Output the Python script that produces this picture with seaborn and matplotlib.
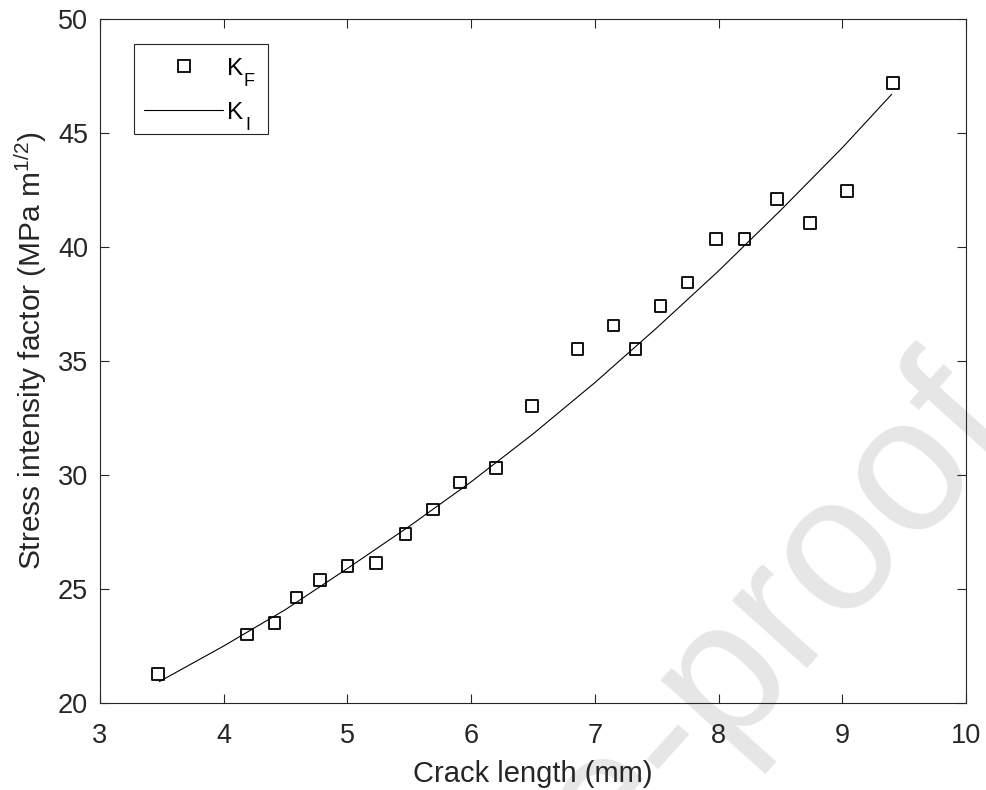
import matplotlib
matplotlib.use("Agg")
import matplotlib.pyplot as plt
import seaborn as sns
import pandas as pd
from matplotlib.lines import Line2D
from matplotlib.patches import Rectangle
from matplotlib.transforms import IdentityTransform

# === Data ===
crack_len = [3.47, 4.19, 4.41, 4.59, 4.78, 5.00, 5.23, 5.47, 5.69, 5.91, 6.20, 6.49,
             6.86, 7.15, 7.33, 7.53, 7.75, 7.98, 8.21, 8.47, 8.74, 9.04, 9.41]
k_f = [21.26, 23.01, 23.52, 24.62, 25.39, 26.00, 26.13, 27.40, 28.48, 29.67, 30.30, 33.02,
       35.52, 36.56, 35.52, 37.40, 38.44, 40.35, 40.35, 42.10, 41.04, 42.46, 47.19]

fit_len = [3.48, 4.0, 4.5, 5.0, 5.5, 6.0, 6.5, 7.0, 7.5, 8.0, 8.5, 9.0, 9.4]
k_i = [20.94, 22.5, 24.1, 25.9, 27.75, 29.7, 31.8, 34.05, 36.45, 38.95, 41.6, 44.35, 46.7]

x_ticks = [3, 4, 5, 6, 7, 8, 9, 10]
y_ticks = [20, 25, 30, 35, 40, 45, 50]
legend_subs = ["F", "I"]

# === Style ===
sns.set_style("ticks")
plt.rcParams["font.family"] = ["Liberation Sans", "DejaVu Sans"]
plt.rcParams["mathtext.fontset"] = "custom"
plt.rcParams["mathtext.rm"] = "Liberation Sans"
plt.rcParams["mathtext.it"] = "Liberation Sans:italic"
plt.rcParams["mathtext.bf"] = "Liberation Sans:bold"
AX_COLOR = "#262626"
LEG_FS = 17.5

fig = plt.figure(figsize=(9.86, 7.9), dpi=100)
ax = fig.add_axes([0.1014, 0.1101, 0.8783, 0.8659])
ax.set_facecolor("none")

# watermark behind everything
fig.text(0.030, -0.940, "Journal Pre-proof", rotation=48, rotation_mode="anchor",
         ha="left", va="baseline", fontsize=138, color="#e6e6e6", zorder=-1)

# === Plot ===
pts = pd.DataFrame({"a": crack_len, "K": k_f})
fit = pd.DataFrame({"a": fit_len, "K": k_i})
sns.lineplot(data=fit, x="a", y="K", ax=ax, color="black", lw=0.8, sort=False)
sns.scatterplot(data=pts, x="a", y="K", ax=ax, marker="s", s=70,
                facecolor="none", edgecolor="black", linewidth=1.3, zorder=3)

ax.set_xlim(3, 10)
ax.set_ylim(20, 50)
ax.set_xticks(x_ticks)
ax.set_yticks(y_ticks)
ax.tick_params(direction="in", length=6.5, width=0.8, top=True, right=True,
               labelsize=19.5, colors=AX_COLOR)
ax.tick_params(axis="x", pad=14.5)
ax.tick_params(axis="y", pad=8.6)
for sp in ax.spines.values():
    sp.set_color(AX_COLOR)
    sp.set_linewidth(0.8)

ax.set_xlabel("Crack length (mm)", fontsize=21, color=AX_COLOR, labelpad=7.8)
ax.set_ylabel("Stress intensity factor (MPa m$^{1/2}$)", fontsize=21.5, color=AX_COLOR)
ax.yaxis.set_label_coords(-0.0584, 0.5146)

# === Legend ===
handles = [
    Line2D([], [], ls="none", marker="s", mfc="none", mec="black", ms=8.4, mew=1.3),
    Line2D([], [], color="black", lw=0.8),
]
leg = ax.legend(handles, ["K", "K"], loc="upper left", labelcolor="black",
                bbox_to_anchor=(0.0393, 0.9583), borderaxespad=0, fontsize=LEG_FS,
                frameon=True, fancybox=False, edgecolor=AX_COLOR, framealpha=1,
                handlelength=3.25, handletextpad=0.17, labelspacing=0.91, borderpad=0.42)

# MATLAB-style large, low subscripts
sub_texts = []
for txt, sub, dx in zip(leg.get_texts(), legend_subs, [16.5, 18.5]):
    sub_texts.append(ax.annotate(sub, xy=(0, 0), xycoords=txt, xytext=(dx, -6.5),
                                 textcoords="offset pixels", ha="left", va="baseline",
                                 fontsize=13, color="black", zorder=7))

# widen the legend box so it also holds the subscripts
fig.canvas.draw()
fb = leg.get_frame().get_window_extent()
right = max(t.get_window_extent().x1 for t in sub_texts) + 13
leg.get_frame().set_visible(False)
ax.add_artist(Rectangle((fb.x0, fb.y0), right - fb.x0, fb.height + 3.5,
                        transform=IdentityTransform(), facecolor="white",
                        edgecolor=AX_COLOR, linewidth=0.8, zorder=4.5, clip_on=False))

fig.savefig("out.png", dpi=100)
